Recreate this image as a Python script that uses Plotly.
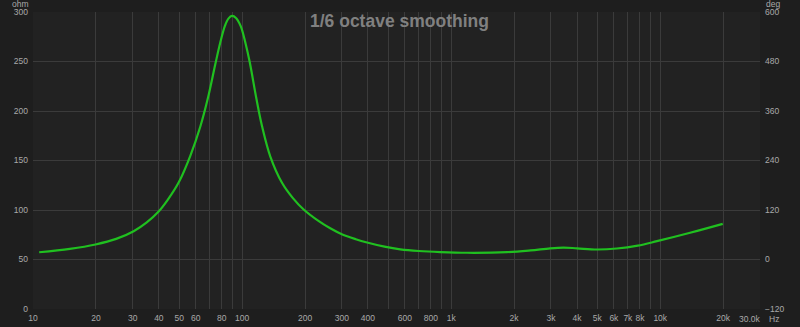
import plotly.graph_objects as go

# ---- data ----
freq_hz = [10.7, 15, 19.9, 25, 30.3, 35, 39.9, 44, 49.8, 56.6, 63.2, 68.5, 74.5, 78.6, 82.7, 86,
           89.6, 93.5, 98.5, 103.7, 108.7, 117.1, 124.6, 136.5, 155.2, 175, 197, 230, 264, 300, 350, 396,
           480, 571, 700, 887, 1190, 1848, 2400, 2977, 3447, 4000, 4977, 6200, 7800, 9640, 13900, 19900]
impedance_ohm = [57.3, 60.8, 65.2, 70.8, 78.6, 87.5, 98.5, 110, 128, 155, 184.6, 212.3, 247.5, 268.9, 285.7, 293.3,
                 296, 294, 285.7, 268.9, 249.7, 212.3, 184.6, 154, 127.5, 112, 100.5, 89.5, 81.5, 75.5, 70.5, 67.2,
                 63, 60.3, 58.6, 57.5, 56.8, 57.4, 59.2, 61.3, 62, 61.3, 60.1, 61.1, 64, 68.5, 77, 86]

x_grid = [m * 10 ** e for e in range(1, 5) for m in range(1, 10) if m * 10 ** e <= 30000]
x_labels_map = {10: "10", 20: "20", 30: "30", 40: "40", 50: "50", 60: "60", 80: "80",
                100: "100", 200: "200", 300: "300", 400: "400", 600: "600", 800: "800",
                1000: "1k", 2000: "2k", 3000: "3k", 4000: "4k", 5000: "5k", 6000: "6k",
                7000: "7k", 8000: "8k", 10000: "10k", 20000: "20k"}
x_text = [x_labels_map.get(v, "") for v in x_grid]
y_ticks = [0, 50, 100, 150, 200, 250, 300]
y2_ticks = [-120, 0, 120, 240, 360, 480, 600]
title_text = "1/6 octave smoothing"

W, H = 800, 327
L, R, T, B = 33, 40, 12, 18
PW, PH = W - L - R, H - T - B


def px(x):
    return (x - L) / PW


def py(y):
    return 1 - (y - T) / PH


grid_col = "#3b3b3b"
txt_col = "#a9a9a9"
font_fam = "Liberation Sans, Arial, sans-serif"
fs = 8.5

fig = go.Figure()
fig.add_trace(go.Scatter(x=freq_hz, y=impedance_ohm, mode="lines",
                         line=dict(color="#20c020", width=2.2, shape="spline", smoothing=1.0),
                         hoverinfo="skip", showlegend=False))
fig.add_trace(go.Scatter(x=[100], y=[None], yaxis="y2", mode="lines", showlegend=False,
                         hoverinfo="skip"))

fig.update_layout(
    width=W, height=H,
    margin=dict(l=L, r=R, t=T, b=B, pad=0),
    paper_bgcolor="#1e1e1e",
    plot_bgcolor="#222222",
    showlegend=False,
    font=dict(family=font_fam, size=fs, color=txt_col),
    xaxis=dict(type="log", range=[1, 4.47712], tickvals=x_grid, ticktext=x_text,
               tickangle=0, showgrid=True, gridcolor=grid_col, gridwidth=1, zeroline=False,
               showline=False, ticks="", tickfont=dict(size=fs, color=txt_col),
               automargin=False, fixedrange=True, ticklabelstandoff=2),
    yaxis=dict(range=[0, 300], tickvals=y_ticks, showgrid=True, gridcolor=grid_col,
               gridwidth=1, zeroline=False, showline=False, ticks="",
               tickfont=dict(size=fs, color=txt_col), automargin=False, ticklabelstandoff=4),
    yaxis2=dict(range=[-120, 600], tickvals=y2_ticks, overlaying="y", side="right",
                showgrid=False, zeroline=False, showline=False, ticks="",
                tickfont=dict(size=fs, color=txt_col), automargin=False, ticklabelstandoff=4),
    annotations=[
        dict(text=title_text, xref="paper", yref="paper", x=px(399), y=py(21),
             xanchor="center", yanchor="middle", showarrow=False,
             font=dict(family=font_fam, size=17.5, color="#808080", weight="bold")),
        dict(text="ohm", xref="paper", yref="paper", x=px(20), y=py(3.8),
             xanchor="center", yanchor="middle", showarrow=False,
             font=dict(size=fs, color=txt_col)),
        dict(text="deg", xref="paper", yref="paper", x=px(773), y=py(3.8),
             xanchor="center", yanchor="middle", showarrow=False,
             font=dict(size=fs, color=txt_col)),
        dict(text="30.0k", xref="paper", yref="paper", x=px(763), y=py(319),
             xanchor="right", yanchor="middle", showarrow=False,
             font=dict(size=fs, color=txt_col)),
        dict(text="Hz", xref="paper", yref="paper", x=px(767), y=py(319),
             xanchor="left", yanchor="middle", showarrow=False,
             font=dict(size=fs, color=txt_col)),
    ],
)

fig.write_html("out.html")
